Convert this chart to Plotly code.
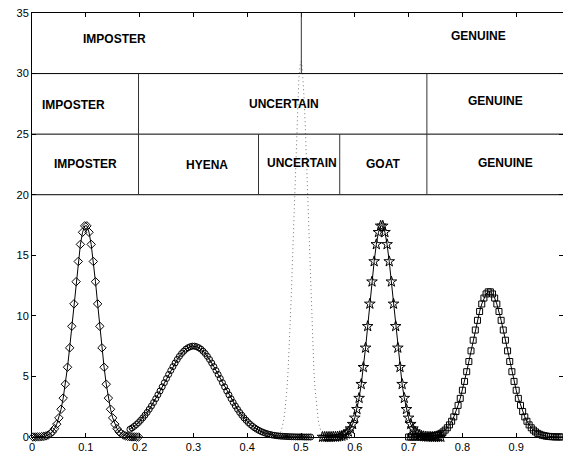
import numpy as np
import plotly.graph_objects as go

# ---------------- data ----------------
STEP = 0.004

# diamonds: first sample x = 0.002
diamond_x0 = 0.002
diamond_y = [0.00, 0.00, 0.01, 0.01, 0.03, 0.05, 0.09, 0.16, 0.27, 0.43, 0.69, 1.06, 1.58,
             2.29, 3.21, 4.36, 5.76, 7.36, 9.14, 10.99, 12.82, 14.49, 15.90, 16.90, 17.43,
             17.43, 16.90, 15.90, 14.49, 12.82, 10.99, 9.14, 7.36, 5.76, 4.36, 3.21, 2.29,
             1.58, 1.06, 0.69, 0.43, 0.27, 0.16, 0.09, 0.05, 0.03, 0.01, 0.01, 0.00, 0.00]

# circles: first sample x = 0.182
circle_x0 = 0.182
circle_y = [0.64, 0.75, 0.88, 1.03, 1.19, 1.38, 1.58, 1.80, 2.03, 2.29, 2.56, 2.85, 3.16,
            3.48, 3.80, 4.14, 4.48, 4.83, 5.16, 5.49, 5.81, 6.11, 6.40, 6.66, 6.89, 7.08,
            7.25, 7.37, 7.45, 7.50,
            7.50, 7.45, 7.37, 7.25, 7.08, 6.89, 6.66, 6.40, 6.11, 5.81, 5.49, 5.16, 4.83,
            4.48, 4.14, 3.80, 3.48, 3.16, 2.85, 2.56, 2.29, 2.03, 1.80, 1.58, 1.38, 1.19,
            1.03, 0.88, 0.75, 0.64, 0.54, 0.45, 0.38, 0.31, 0.26, 0.21, 0.17, 0.14, 0.11,
            0.09, 0.07, 0.06, 0.05, 0.04, 0.03, 0.02, 0.02, 0.01, 0.01, 0.01, 0.01, 0.00,
            0.00, 0.00, 0.00]

# dotted curve: first sample x = 0.45, step 0.002
dotted_x0 = 0.45
dotted_step = 0.002
dotted_y = [0.02, 0.03, 0.05, 0.09, 0.16, 0.25, 0.40, 0.63, 0.96, 1.43, 2.08, 2.92, 4.05,
            5.48, 7.23, 9.31, 11.69, 14.36, 17.22, 20.13, 22.96, 25.58, 27.82, 29.54, 30.63,
            31.00,
            30.63, 29.54, 27.82, 25.58, 22.96, 20.13, 17.22, 14.36, 11.69, 9.31, 7.23, 5.48,
            4.05, 2.92, 2.08, 1.43, 0.96, 0.63, 0.40, 0.25, 0.16, 0.09, 0.05, 0.03, 0.02]

# stars: first sample x = 0.540
star_x0 = 0.540
star_y = [0.00, 0.00, 0.00, 0.00, 0.00, 0.01, 0.01, 0.03, 0.05, 0.09, 0.16, 0.27, 0.43, 0.69,
          1.06, 1.58, 2.29, 3.21, 4.36, 5.76, 7.36, 9.14, 10.99, 12.82, 14.49, 15.90, 16.90,
          17.43,
          17.43, 16.90, 15.90, 14.49, 12.82, 10.99, 9.14, 7.36, 5.76, 4.36, 3.21, 2.29, 1.58,
          1.06, 0.69, 0.43, 0.27, 0.16, 0.09, 0.05, 0.03, 0.01, 0.01, 0.00, 0.00, 0.00, 0.00,
          0.00]

# squares: first sample x = 0.700
square_x0 = 0.700
square_y = [0.00, 0.00, 0.00, 0.00, 0.00, 0.01, 0.01, 0.01, 0.02, 0.03, 0.05, 0.07, 0.11,
            0.15, 0.22, 0.30, 0.42, 0.57, 0.76, 1.00, 1.30, 1.66, 2.10, 2.61, 3.19, 3.86,
            4.59, 5.39, 6.23, 7.11, 7.99, 8.83, 9.63, 10.36, 10.98, 11.47, 11.81, 11.98,
            11.98, 11.81, 11.47, 10.98, 10.36, 9.63, 8.83, 7.99, 7.11, 6.23, 5.39, 4.59,
            3.86, 3.19, 2.61, 2.10, 1.66, 1.30, 1.00, 0.76, 0.57, 0.42, 0.30, 0.22, 0.15,
            0.11, 0.07, 0.05, 0.03, 0.02, 0.01, 0.01, 0.01, 0.00, 0.00, 0.00, 0.00, 0.00]

# decision bands (rows) and their dividers
row_edges = [20, 25, 30, 35]
row_dividers = [
    [0.198, 0.421, 0.572, 0.734],   # row 20-25
    [0.198, 0.734],                 # row 25-30
    [0.5006],                       # row 30-35
]
row_labels = [
    [("IMPOSTER", 0.099, 22.5), ("HYENA", 0.325, 22.44), ("UNCERTAIN", 0.502, 22.58),
     ("GOAT", 0.653, 22.5), ("GENUINE", 0.880, 22.63)],
    [("IMPOSTER", 0.0775, 27.4), ("UNCERTAIN", 0.469, 27.5), ("GENUINE", 0.861, 27.7)],
    [("IMPOSTER", 0.153, 32.84), ("GENUINE", 0.830, 33.1)],
]

x_ticks = [0, 0.1, 0.2, 0.3, 0.4, 0.5, 0.6, 0.7, 0.8, 0.9]
x_tick_text = ["0", "0.1", "0.2", "0.3", "0.4", "0.5", "0.6", "0.7", "0.8", "0.9"]
y_ticks = [0, 5, 10, 15, 20, 25, 30, 35]

# ---------------- figure ----------------
def grid(x0, n, step=STEP):
    return x0 + step * np.arange(n)

fig = go.Figure()

FONT = "Liberation Sans, Arial, Helvetica, sans-serif"

fig.add_trace(go.Scatter(
    x=grid(dotted_x0, len(dotted_y), dotted_step), y=dotted_y, mode="lines",
    line=dict(color="#777777", width=1, dash="1px,3px"), showlegend=False))

series = [
    (diamond_x0, diamond_y, "diamond-open", 6.5),
    (circle_x0, circle_y, "circle-open", 6),
    (star_x0, star_y, "star-open", 8),
    (square_x0, square_y, "square-open", 6),
]
for x0, ys, sym, sz in series:
    fig.add_trace(go.Scatter(
        x=grid(x0, len(ys)), y=ys, mode="lines+markers",
        line=dict(color="black", width=1),
        marker=dict(symbol=sym, size=sz, color="black", line=dict(color="black", width=1)),
        cliponaxis=False, showlegend=False))

shapes = []
for e in row_edges[:-1]:
    shapes.append(dict(type="line", xref="paper", yref="y", x0=0, x1=1, y0=e, y1=e,
                       line=dict(color="black", width=1)))
for i, divs in enumerate(row_dividers):
    for d in divs:
        shapes.append(dict(type="line", xref="x", yref="y", x0=d, x1=d,
                           y0=row_edges[i], y1=row_edges[i + 1],
                           line=dict(color="#333333", width=1)))

annotations = []
for row in row_labels:
    for txt, x, y in row:
        annotations.append(dict(x=x, y=y, xref="x", yref="y", text=txt, showarrow=False,
                                font=dict(family=FONT, size=12, color="black", weight="bold")))

fig.update_layout(
    width=563, height=455,
    margin=dict(l=32, r=0, t=13, b=18),
    paper_bgcolor="white", plot_bgcolor="white",
    shapes=shapes, annotations=annotations,
    font=dict(family=FONT, size=11, color="black"),
    xaxis=dict(range=[0, 0.987], tickvals=x_ticks, ticktext=x_tick_text,
               ticks="inside", ticklen=4, tickcolor="black", mirror="ticks",
               showline=True, linecolor="black", linewidth=1, showgrid=False,
               zeroline=False, automargin=False, tickfont=dict(size=11)),
    yaxis=dict(range=[0, 35], tickvals=y_ticks, ticks="inside", ticklen=4,
               tickcolor="black", mirror="ticks", showline=True, linecolor="black",
               linewidth=1, showgrid=False, zeroline=False, automargin=False,
               tickfont=dict(size=11)),
)

fig.write_html("out.html")
